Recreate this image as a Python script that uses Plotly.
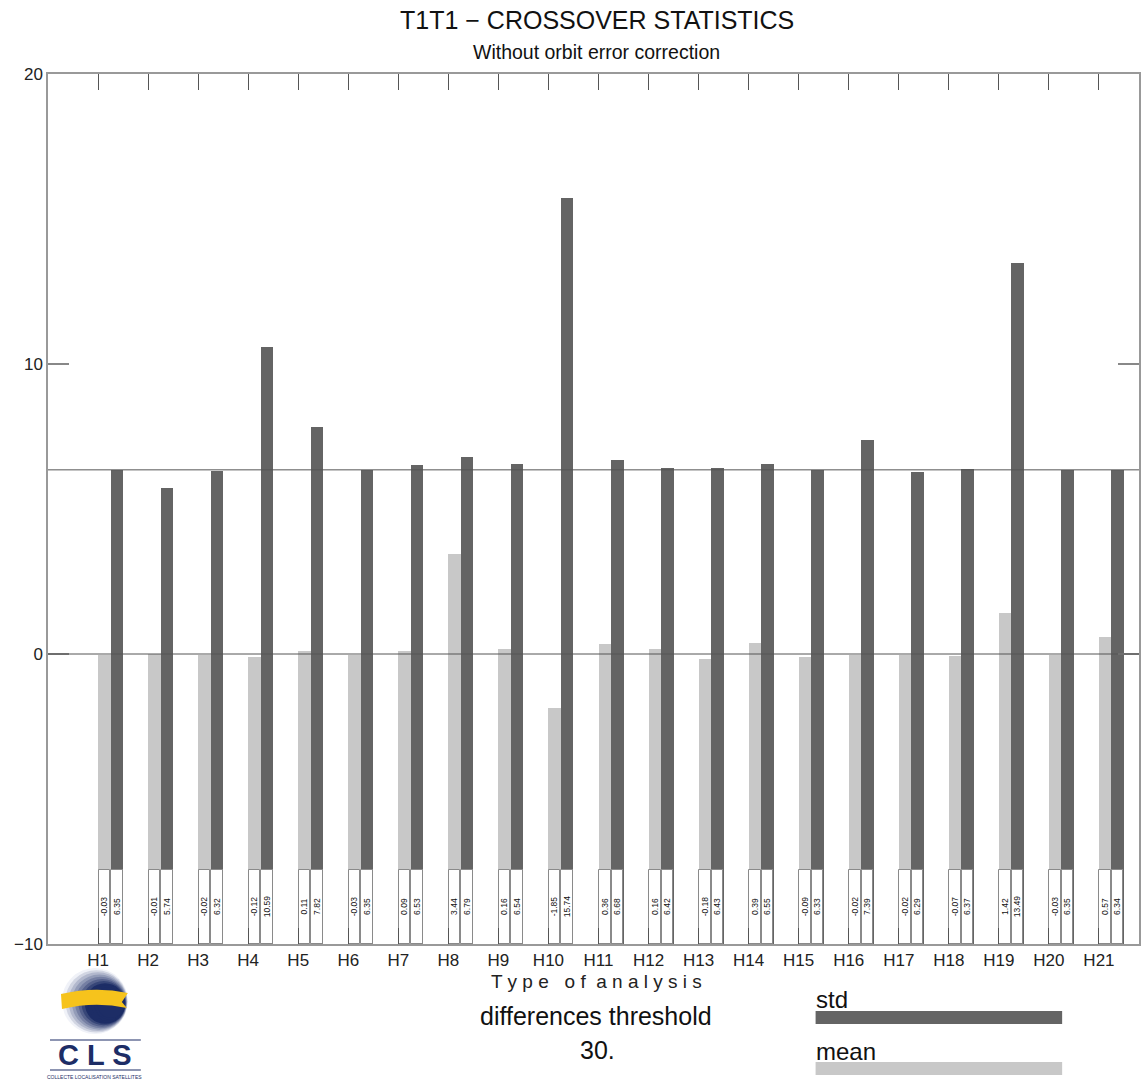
import plotly.graph_objects as go

# ---------------- data ----------------
categories = ["H1", "H2", "H3", "H4", "H5", "H6", "H7", "H8", "H9", "H10", "H11",
              "H12", "H13", "H14", "H15", "H16", "H17", "H18", "H19", "H20", "H21"]
mean_values = [-0.03, -0.01, -0.02, -0.12, 0.11, -0.03, 0.09, 3.44, 0.16, -1.85, 0.36,
               0.16, -0.18, 0.39, -0.09, -0.02, -0.02, -0.07, 1.42, -0.03, 0.57]
std_values = [6.35, 5.74, 6.32, 10.59, 7.82, 6.35, 6.53, 6.79, 6.54, 15.74, 6.68,
              6.42, 6.43, 6.55, 6.33, 7.39, 6.29, 6.37, 13.49, 6.35, 6.34]
reference_std = 6.35
y_ticks = [-10, 0, 10, 20]
threshold = "30."

# ---------------- geometry helpers ----------------
W, H = 1142, 1084
ML, MR, MT, MB = 48, 1, 74, 140
PW, PH = W - ML - MR, H - MT - MB
Y_MIN, Y_MAX = -10, 20
LABEL_BOX_TOP = -7.45
BAR_W = 0.25


def px(x):
    return (x - ML) / PW


def py(y):
    return (H - MB - y) / PH


pos = list(range(1, len(categories) + 1))
mean_x = [p + BAR_W / 2 for p in pos]
std_x = [p + 1.5 * BAR_W for p in pos]

DARK = "#646464"
LIGHT = "#c8c8c8"
FONT = "Liberation Sans, Arial, sans-serif"

fig = go.Figure()

fig.add_trace(go.Bar(x=mean_x, y=[v - Y_MIN for v in mean_values], base=Y_MIN,
                     width=BAR_W, marker=dict(color=LIGHT, line=dict(width=0)),
                     name="mean", showlegend=False, hoverinfo="skip"))
fig.add_trace(go.Bar(x=std_x, y=[v - Y_MIN for v in std_values], base=Y_MIN,
                     width=BAR_W, marker=dict(color=DARK, line=dict(width=0)),
                     name="std", showlegend=False, hoverinfo="skip"))

# white label boxes at the bottom with rotated values
box_x = mean_x + std_x
box_text = [f"{v:.2f}" for v in mean_values] + [f"{v:.2f}" for v in std_values]
fig.add_trace(go.Bar(x=box_x, y=[LABEL_BOX_TOP - Y_MIN] * len(box_x), base=Y_MIN,
                     width=BAR_W * 0.92,
                     marker=dict(color="white", line=dict(color="#8a8a8a", width=1)),
                     text=box_text, textposition="inside", insidetextanchor="middle",
                     textangle=-90, constraintext="none",
                     textfont=dict(size=8.5, color="#111", family=FONT),
                     showlegend=False, hoverinfo="skip"))

# reference lines
for yv in (0, reference_std):
    fig.add_shape(type="line", xref="paper", yref="y", x0=0, x1=1, y0=yv, y1=yv,
                  line=dict(color="#555555", width=1))

fig.update_layout(
    width=W, height=H,
    margin=dict(l=ML, r=MR, t=MT, b=MB),
    paper_bgcolor="white", plot_bgcolor="white",
    barmode="overlay", bargap=0,
    font=dict(family=FONT, color="#222"),
    uniformtext=dict(minsize=7, mode="show"),
    xaxis=dict(range=[0, len(categories) + 0.8], tickmode="array", tickvals=pos,
               ticktext=categories, ticks="inside", ticklen=16, tickcolor="#555",
               tickwidth=1, mirror="allticks", showline=True, linecolor="#999",
               linewidth=1.5, showgrid=False, zeroline=False,
               tickfont=dict(size=17, color="#222")),
    yaxis=dict(range=[Y_MIN, Y_MAX], tickmode="array", tickvals=y_ticks,
               ticktext=[str(t) if t >= 0 else "\u2212" + str(-t) for t in y_ticks],
               ticks="inside", ticklen=21, tickcolor="#888", tickwidth=1.5,
               mirror="allticks", showline=True, linecolor="#999", linewidth=1.5,
               showgrid=False, zeroline=False, tickfont=dict(size=17, color="#222")),
)

ann = [
    dict(text="T1T1 \u2212 CROSSOVER STATISTICS", x=px(598), y=py(20), size=25, color="#111"),
    dict(text="Without orbit error correction", x=px(598), y=py(52), size=19.5, color="#111"),
    dict(text="T y p e   o f  a n a l y s i s", x=px(598), y=py(981), size=19, color="#222"),
    dict(text="differences threshold", x=px(597), y=py(1016), size=25, color="#111"),
    dict(text=threshold, x=px(599), y=py(1050), size=25, color="#111"),
]
for a in ann:
    fig.add_annotation(text=a["text"], x=a["x"], y=a["y"], xref="paper", yref="paper",
                       xanchor="center", yanchor="middle", showarrow=False,
                       font=dict(size=a["size"], color=a["color"], family=FONT))

# legend-like keys
for label, ly, by0, by1, col in (("std", 999, 1011, 1024, DARK), ("mean", 1051, 1062, 1075, LIGHT)):
    fig.add_annotation(text=label, x=px(815), y=py(ly), xref="paper", yref="paper",
                       xanchor="left", yanchor="middle", showarrow=False,
                       font=dict(size=24, color="#111", family=FONT))
    fig.add_shape(type="rect", xref="paper", yref="paper", x0=px(817), x1=px(1064),
                  y0=py(by1), y1=py(by0), fillcolor=col, line=dict(width=0))

# CLS logo (approximation): shaded sphere built from circles tangent at lower right
NAVY = "#1d2d66"
cx, cy, r = 95, 1001, 33
n_steps = 12
light = (240, 242, 248)
dark = (29, 45, 102)
for k in range(n_steps):
    t = k / (n_steps - 1)
    col = "rgb({},{},{})".format(*[int(light[i] + (dark[i] - light[i]) * min(1, t * 1.6))
                                   for i in range(3)])
    rk = r * (1 - 0.055 * k)
    d = r - rk
    ccx, ccy = cx + d * 0.8, cy + d * 0.2
    fig.add_shape(type="circle", xref="paper", yref="paper",
                  x0=px(ccx - rk), x1=px(ccx + rk),
                  y0=py(ccy + rk), y1=py(ccy - rk), fillcolor=col, line=dict(width=0))
band = (f"M {px(61)},{py(994)} Q {px(95)},{py(986)} {px(128)},{py(993)} "
        f"L {px(122)},{py(1002)} L {px(127)},{py(1008)} "
        f"Q {px(95)},{py(1001)} {px(62)},{py(1009)} Z")
fig.add_shape(type="path", xref="paper", yref="paper", path=band,
              fillcolor="#f6c31c", line=dict(width=0))
for ly in (1040, 1070):
    fig.add_shape(type="line", xref="paper", yref="paper", x0=px(50), x1=px(141),
                  y0=py(ly), y1=py(ly), line=dict(color=NAVY, width=1.2))
fig.add_annotation(text="<b>C L S</b>", x=px(95), y=py(1055), xref="paper", yref="paper",
                   showarrow=False, xanchor="center", yanchor="middle",
                   font=dict(size=29, color=NAVY, family=FONT))
fig.add_annotation(text="COLLECTE LOCALISATION SATELLITES", x=px(95), y=py(1077),
                   xref="paper", yref="paper", showarrow=False, xanchor="center",
                   yanchor="middle", font=dict(size=5, color=NAVY, family=FONT))

fig.write_html("out.html", config={"displayModeBar": False},
               post_script="document.body.style.margin='0px';"
                           "document.documentElement.style.overflow='hidden';")
